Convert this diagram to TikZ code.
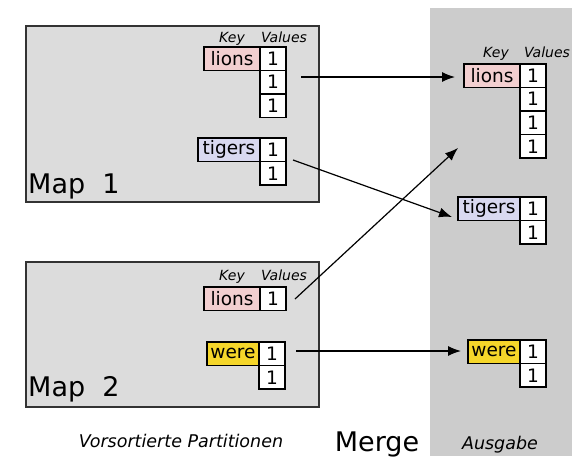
\documentclass[tikz,border=0pt]{standalone}
\usepackage{fontspec}
\setmainfont{DejaVu Sans}
\usetikzlibrary{positioning,arrows.meta}
\definecolor{mapgray}{HTML}{DCDCDC}
\definecolor{outgray}{HTML}{CCCCCC}
\definecolor{lionpink}{HTML}{F2CFD0}
\definecolor{tigerblue}{HTML}{D9D9F0}
\definecolor{wereyellow}{HTML}{F5D62A}
\tikzstyle{map}=[draw=black!80,fill=mapgray,line width=1.4pt]
\tikzstyle{val}=[rectangle,draw,fill=white,line width=1.2pt,minimum width=26pt,minimum height=23.5pt,inner sep=0pt,outer sep=0pt,font=\fontsize{18.5}{20}\selectfont]
\tikzstyle{keybox}=[val,minimum width=56pt]
\tikzstyle{head}=[anchor=base,inner sep=0pt,font=\fontsize{14}{16}\selectfont\itshape]
\tikzstyle{title}=[anchor=base west,inner sep=0pt,font=\fontsize{27}{30}\selectfont]
\tikzstyle{caption}=[anchor=base,inner sep=0pt,font=\fontsize{17.5}{20}\selectfont\itshape]
\tikzstyle{merge}=[-{Latex[length=13pt,width=10pt]},line width=1.2pt]

\begin{document}
\begin{tikzpicture}[x=1pt,y=-1pt]

  \useasboundingbox (0,0) rectangle (572,456);
  \fill[outgray] (430,8) rectangle (572,456);
  \draw[map] (26,26) rectangle (319,202);
  \draw[map] (26,262) rectangle (319,407);

  % Map 1
  \node[head] (m1key) at (232,42) {Key};
  \node[head] (m1values) at (284,42) {Values};
  \node[val,anchor=north west] (m1lionsA) at (260,47) {1};
  \node[val,below=0pt of m1lionsA] (m1lionsB) {1};
  \node[val,below=0pt of m1lionsB] (m1lionsC) {1};
  \node[keybox,fill=lionpink,left=0pt of m1lionsA] (m1lions) {lions};
  \node[val,anchor=north west] (m1tigersA) at (260,138) {1};
  \node[val,below=0pt of m1tigersA] (m1tigersB) {1};
  \node[keybox,minimum width=62pt,fill=tigerblue,left=0pt of m1tigersA] (m1tigers) {tigers};
  \node[title] (m1) at (28,193) {Map\ \ 1};

  % Map 2
  \node[head] (m2key) at (232,280) {Key};
  \node[head] (m2values) at (284,280) {Values};
  \node[val,anchor=north west] (m2lionsA) at (260,287) {1};
  \node[keybox,fill=lionpink,left=0pt of m2lionsA] (m2lions) {lions};
  \node[val,anchor=north west] (m2wereA) at (259,342) {1};
  \node[val,below=0pt of m2wereA] (m2wereB) {1};
  \node[keybox,minimum width=52pt,fill=wereyellow,left=0pt of m2wereA] (m2were) {were};
  \node[title] (m2) at (28,396) {Map\ \ 2};

  % Ausgabe
  \node[head] (okey) at (496,57) {Key};
  \node[head] (ovalues) at (547,57) {Values};
  \node[val,anchor=north west] (olionsA) at (520,64) {1};
  \node[val,below=0pt of olionsA] (olionsB) {1};
  \node[val,below=0pt of olionsB] (olionsC) {1};
  \node[val,below=0pt of olionsC] (olionsD) {1};
  \node[keybox,fill=lionpink,left=0pt of olionsA] (olions) {lions};
  \node[val,anchor=north west] (otigersA) at (520,197) {1};
  \node[val,below=0pt of otigersA] (otigersB) {1};
  \node[keybox,minimum width=62pt,fill=tigerblue,left=0pt of otigersA] (otigers) {tigers};
  \node[val,anchor=north west] (owereA) at (520,340) {1};
  \node[val,below=0pt of owereA] (owereB) {1};
  \node[keybox,minimum width=52pt,fill=wereyellow,left=0pt of owereA] (owere) {were};

  \node[caption] (vp) at (181,447) {Vorsortierte Partitionen};
  \node[title,anchor=base] (mg) at (377,451) {Merge};
  \node[caption] (aus) at (500,449) {Ausgabe};

  % merge arrows
  \coordinate (s1) at (301,77); \coordinate (e1) at (455,77);
  \coordinate (s2) at (293,160); \coordinate (e2) at (452,217);
  \coordinate (s3) at (295,299); \coordinate (e3) at (458,148);
  \coordinate (s4) at (296,351); \coordinate (e4) at (461,351);
  \draw[merge] (s1)--(e1); \draw[merge] (s2)--(e2);
  \draw[merge] (s3)--(e3); \draw[merge] (s4)--(e4);

\end{tikzpicture}
\end{document}
